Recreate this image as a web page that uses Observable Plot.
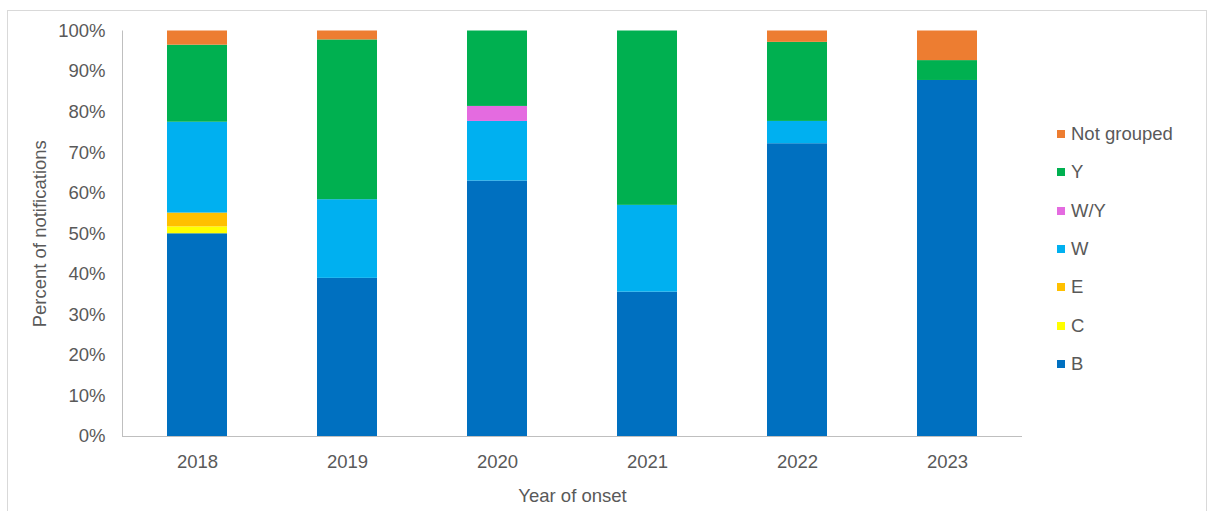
<!DOCTYPE html>
<html>
<head>
<meta charset="utf-8">
<script src="https://cdn.jsdelivr.net/npm/d3@7"></script>
<script src="https://cdn.jsdelivr.net/npm/@observablehq/plot@0.6"></script>
<style>
  html, body { margin: 0; padding: 0; background: #fff; }
  body { width: 1212px; height: 511px; position: relative; overflow: hidden; font-family: "Liberation Sans", Arial, sans-serif; }
  #frame { position: absolute; left: 7px; top: 10px; width: 1200px; height: 520px; border: 1px solid #d9d9d9; box-sizing: border-box; }
  #chart { position: absolute; left: 0; top: 0; }
  #legend { position: absolute; left: 1057px; top: 115px; }
  .li { height: 38.3px; display: flex; align-items: center; font-size: 18.5px; color: #595959; }
  .sw { width: 8px; height: 8px; margin-right: 6px; }
</style>
</head>
<body>
<div id="frame"></div>
<div id="chart"></div>
<div id="legend"></div>
<script>
const years = ["2018", "2019", "2020", "2021", "2022", "2023"];
const groups = ["B", "C", "E", "W", "W/Y", "Y", "Not grouped"];
const colors = ["#0070C0", "#FFFF00", "#FFC000", "#00B0F0", "#E46BE0", "#00B050", "#ED7D31"];
const B = [50.0, 39.0, 63.0, 35.6, 72.2, 87.8];
const C = [1.7, 0, 0, 0, 0, 0];
const E = [3.4, 0, 0, 0, 0, 0];
const W = [22.4, 19.4, 14.7, 21.4, 5.5, 0];
const WY = [0, 0, 3.7, 0, 0, 0];
const Y = [19.0, 39.4, 18.6, 43.0, 19.5, 4.9];
const NG = [3.5, 2.2, 0, 0, 2.8, 7.3];
const yTicks = [0, 10, 20, 30, 40, 50, 60, 70, 80, 90, 100];

const seriesValues = [B, C, E, W, WY, Y, NG];
const rows = [];
groups.forEach((g, gi) => {
  years.forEach((yr, i) => {
    rows.push({year: yr, group: g, value: seriesValues[gi][i]});
  });
});

const chart = Plot.plot({
  width: 1212,
  height: 511,
  marginLeft: 122,
  marginRight: 190,
  marginTop: 30.5,
  marginBottom: 75,
  style: {fontFamily: "Liberation Sans, Arial, sans-serif", fontSize: "18.5px", color: "#595959", background: "transparent"},
  x: {domain: years, paddingInner: 0.6, paddingOuter: 0.3, label: null},
  y: {domain: [0, 100], label: null},
  color: {domain: groups, range: colors},
  marks: [
    Plot.barY(rows, {x: "year", y: "value", fill: "group", order: groups}),
    Plot.axisY({ticks: yTicks, tickSize: 0, tickPadding: 17, tickFormat: d => d + "%", label: "Percent of notifications", labelAnchor: "center", labelArrow: "none", labelOffset: 90, fill: "#595959"}),
    Plot.axisX({tickSize: 0, tickPadding: 18, label: "Year of onset", labelAnchor: "center", labelArrow: "none", labelOffset: 65, fill: "#595959"}),
    Plot.frame({anchor: "left", stroke: "#bfbfbf", strokeOpacity: 1}),
    Plot.ruleY([0], {stroke: "#bfbfbf"})
  ]
});
document.getElementById("chart").appendChild(chart);

const legend = document.getElementById("legend");
for (let i = groups.length - 1; i >= 0; i--) {
  const div = document.createElement("div");
  div.className = "li";
  const sw = document.createElement("span");
  sw.className = "sw";
  sw.style.background = colors[i];
  const tx = document.createElement("span");
  tx.textContent = groups[i];
  div.appendChild(sw);
  div.appendChild(tx);
  legend.appendChild(div);
}
</script>
</body>
</html>
